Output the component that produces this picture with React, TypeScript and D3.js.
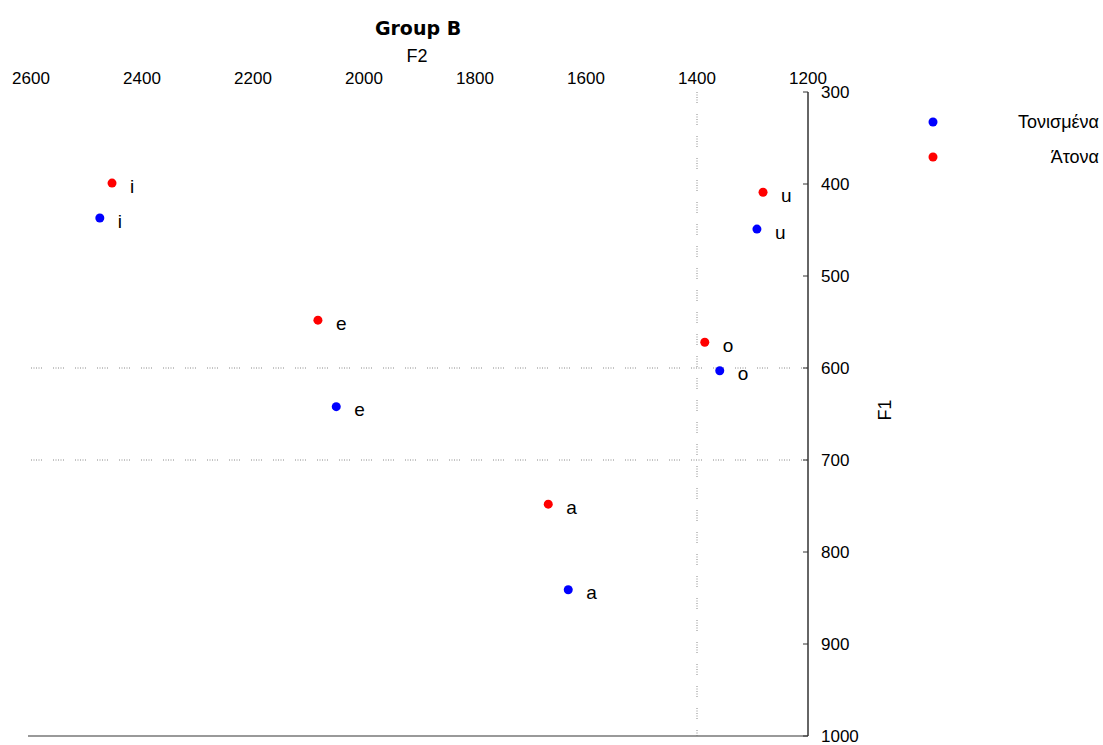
import * as React from "react";
import { scaleLinear, range } from "d3";

const vowels = ["i", "e", "a", "o", "u"];
// F2 / F1 values per vowel (Hz)
const stressedF2 = [2476, 2050, 1632, 1359, 1292];
const stressedF1 = [437, 642, 841, 603, 449];
const unstressedF2 = [2454, 2083, 1668, 1386, 1281];
const unstressedF1 = [399, 548, 748, 572, 409];

const seriesNames = ["Τονισμένα", "Άτονα"];
const seriesColors = ["#0000ff", "#ff0000"];

const f2Ticks = [2600, 2400, 2200, 2000, 1800, 1600, 1400, 1200];
const f1Ticks = [300, 400, 500, 600, 700, 800, 900, 1000];
const f2Grid = [1400];
const f1Grid = [600, 700];

const font = "'Liberation Sans', Arial, sans-serif";

export default function App() {
  const x = scaleLinear().domain([2600, 1200]).range([31, 808]);
  const y = scaleLinear().domain([300, 1000]).range([92, 736]);

  const series = [
    { name: seriesNames[0], color: seriesColors[0], f2: stressedF2, f1: stressedF1 },
    { name: seriesNames[1], color: seriesColors[1], f2: unstressedF2, f1: unstressedF1 },
  ];

  const dash = "1 1.5 1 1.5 1 1.5 1 1.5 1 11";

  return (
    <svg
      width={1103}
      height={745}
      style={{ position: "absolute", left: 0, top: 0, background: "#fff" }}
      fontFamily={font}
    >
      {/* titles */}
      <text x={418} y={35} textAnchor="middle" fontSize={19} fontWeight="bold"
        fontFamily="'DejaVu Sans', sans-serif">Group B</text>
      <text x={417} y={62} textAnchor="middle" fontSize={18}>F2</text>
      <text transform="translate(891,410) rotate(-90)" textAnchor="middle" fontSize={18}>F1</text>

      {/* grid */}
      {f2Grid.map((d) => (
        <line key={"gx" + d} x1={x(d)} x2={x(d)} y1={y(300)} y2={y(1000)}
          stroke="#888" strokeWidth={1} strokeDasharray={dash} />
      ))}
      {f1Grid.map((d) => (
        <line key={"gy" + d} x1={x(2600)} x2={x(1200)} y1={y(d)} y2={y(d)}
          stroke="#888" strokeWidth={1} strokeDasharray={dash} />
      ))}

      {/* x tick labels (top) */}
      {f2Ticks.map((d) => (
        <text key={"xt" + d} x={x(d)} y={84} textAnchor="middle" fontSize={17}>{d}</text>
      ))}

      {/* bottom line */}
      <line x1={x(2600) - 3} x2={x(1200)} y1={y(1000)} y2={y(1000)} stroke="#777" strokeWidth={1.5} />

      {/* y axis (right) */}
      <line x1={x(1200)} x2={x(1200)} y1={y(300)} y2={y(1000)} stroke="#333" strokeWidth={1.5} />
      {f1Ticks.map((d) => (
        <g key={"yt" + d}>
          <line x1={x(1200) - 5} x2={x(1200)} y1={y(d)} y2={y(d)} stroke="#333" />
          <text x={821} y={y(d)} dy="0.35em" fontSize={17}>{d}</text>
        </g>
      ))}

      {/* points */}
      {series.map((s) => (
        <g key={s.name}>
          {range(vowels.length).map((i) => (
            <g key={i}>
              <circle cx={x(s.f2[i])} cy={y(s.f1[i])} r={4.5} fill={s.color} />
              <text x={x(s.f2[i]) + 18} y={y(s.f1[i]) + 3} dy="0.35em" fontSize={19}>{vowels[i]}</text>
            </g>
          ))}
        </g>
      ))}

      {/* legend */}
      {series.map((s, i) => (
        <g key={"lg" + s.name} transform={`translate(0,${122 + i * 35})`}>
          <circle cx={933} cy={0} r={4.5} fill={s.color} />
          <text x={1099} y={0} dy="0.35em" textAnchor="end" fontSize={18}>{s.name}</text>
        </g>
      ))}
    </svg>
  );
}
